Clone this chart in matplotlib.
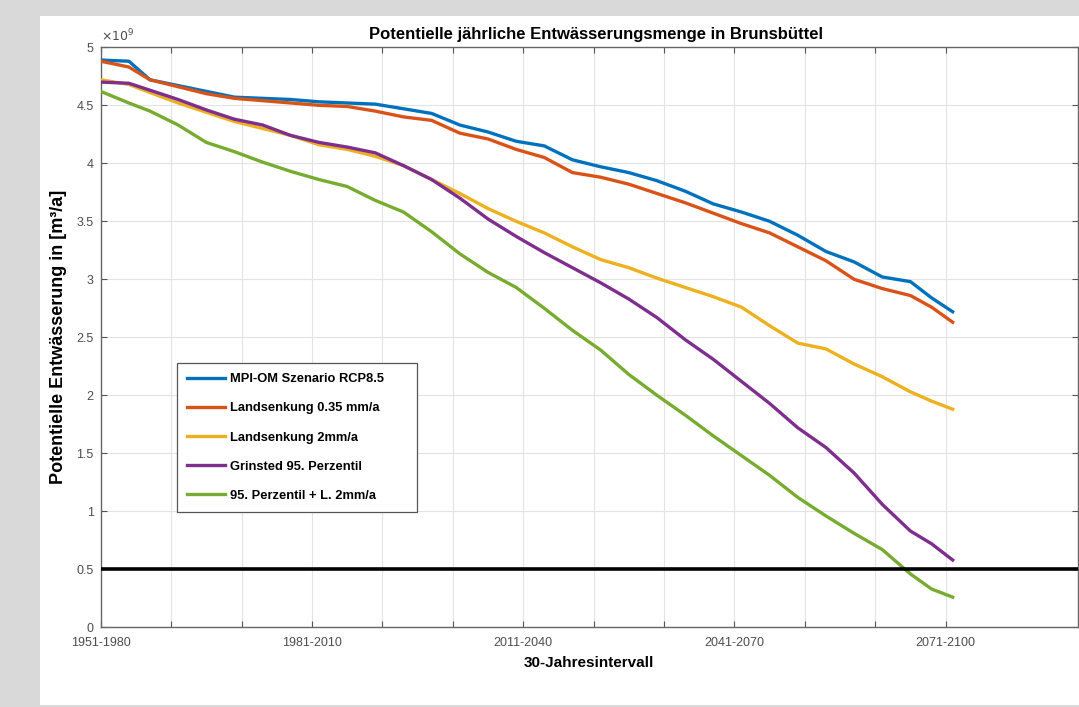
#!/usr/bin/env python
"""Potentielle jaehrliche Entwaesserungsmenge in Brunsbuettel (MATLAB-style line chart)."""

import matplotlib

matplotlib.use("Agg")
import matplotlib.pyplot as plt
from matplotlib.patches import Rectangle

# Start year of each 30-year interval
YEARS = [1951, 1955, 1958, 1962, 1966, 1970, 1974, 1978, 1982, 1986, 1990,
         1994, 1998, 2002, 2006, 2010, 2014, 2018, 2022, 2026, 2030, 2034,
         2038, 2042, 2046, 2050, 2054, 2058, 2062, 2066, 2069, 2072]

# Values in 10^9 m^3/a
MPI_OM = [4.89, 4.88, 4.72, 4.67, 4.62, 4.57, 4.56, 4.55, 4.53, 4.52, 4.51,
          4.47, 4.43, 4.33, 4.27, 4.19, 4.15, 4.03, 3.97, 3.92, 3.85, 3.76,
          3.65, 3.58, 3.50, 3.38, 3.24, 3.15, 3.02, 2.98, 2.84, 2.72]
SENK_035 = [4.88, 4.83, 4.72, 4.66, 4.60, 4.56, 4.54, 4.52, 4.50, 4.49, 4.45,
            4.40, 4.37, 4.26, 4.21, 4.12, 4.05, 3.92, 3.88, 3.82, 3.74, 3.66,
            3.57, 3.48, 3.40, 3.28, 3.16, 3.00, 2.92, 2.86, 2.76, 2.63]
SENK_2 = [4.72, 4.68, 4.61, 4.52, 4.44, 4.36, 4.30, 4.24, 4.16, 4.12, 4.06,
          3.98, 3.86, 3.74, 3.61, 3.50, 3.40, 3.28, 3.17, 3.10, 3.01, 2.93,
          2.85, 2.76, 2.60, 2.45, 2.40, 2.27, 2.16, 2.03, 1.95, 1.88]
GRINSTED_95 = [4.70, 4.69, 4.63, 4.55, 4.46, 4.38, 4.33, 4.24, 4.18, 4.14, 4.09,
               3.98, 3.86, 3.70, 3.52, 3.37, 3.23, 3.10, 2.97, 2.83, 2.67, 2.48,
               2.31, 2.12, 1.93, 1.72, 1.55, 1.33, 1.06, 0.83, 0.72, 0.58]
P95_SENK_2 = [4.62, 4.52, 4.45, 4.33, 4.18, 4.10, 4.01, 3.93, 3.86, 3.80, 3.68,
              3.58, 3.41, 3.22, 3.06, 2.93, 2.75, 2.56, 2.39, 2.18, 2.00, 1.83,
              1.65, 1.48, 1.31, 1.12, 0.96, 0.81, 0.67, 0.46, 0.33, 0.26]

SERIES_LABELS = [
    "MPI-OM Szenario RCP8.5",
    "Landsenkung 0.35 mm/a",
    "Landsenkung 2mm/a",
    "Grinsted 95. Perzentil",
    "95. Perzentil + L. 2mm/a",
]
THRESHOLD = 0.5

X_TICKS = list(range(1951, 2072, 10))
X_TICK_LABELS = ["1951-1980", "", "", "1981-2010", "", "", "2011-2040",
                 "", "", "2041-2070", "", "", "2071-2100"]
Y_TICKS = [0, 0.5, 1, 1.5, 2, 2.5, 3, 3.5, 4, 4.5, 5]
Y_TICK_LABELS = ["0", "0.5", "1", "1.5", "2", "2.5", "3", "3.5", "4", "4.5", "5"]

# MATLAB default color order
COLORS = ["#0072BD", "#D95319", "#EDB120", "#7E2F8E", "#77AC30"]


def main() -> None:
    plt.rcParams["font.family"] = ["Liberation Sans", "DejaVu Sans"]

    W, H = 1079, 707
    fig = plt.figure(figsize=(W / 100, H / 100), dpi=100)
    fig.patch.set_facecolor("#d9d9d9")
    fig.add_artist(Rectangle((40 / W, 2 / H), 1, (705 - 16) / H,
                             transform=fig.transFigure, facecolor="white",
                             edgecolor="none", zorder=0))

    ax = fig.add_axes([100.7 / W, (H - 627.3) / H, (1078 - 100.7) / W, 580 / H])
    ax.set_facecolor("white")

    series = [MPI_OM, SENK_035, SENK_2, GRINSTED_95, P95_SENK_2]
    for values, label, color in zip(series, SERIES_LABELS, COLORS):
        ax.plot(YEARS, values, color=color, lw=2.4, label=label,
                solid_joinstyle="round", zorder=3)

    ax.axhline(THRESHOLD, color="black", lw=2.6, zorder=4)

    ax.set_xlim(1951, 2089.8)
    ax.set_ylim(0, 5)
    ax.set_xticks(X_TICKS)
    ax.set_xticklabels(X_TICK_LABELS)
    ax.set_yticks(Y_TICKS)
    ax.set_yticklabels(Y_TICK_LABELS)

    tick_color = "#4d4d4d"
    ax.tick_params(direction="in", top=True, right=True, length=4.5,
                   width=0.8, color="#555555", labelsize=9,
                   labelcolor=tick_color)
    ax.tick_params(axis="x", pad=7)
    ax.tick_params(axis="y", pad=5)
    for spine in ax.spines.values():
        spine.set_color("#666666")
        spine.set_linewidth(1.0)
    ax.grid(True, color="#e3e3e3", lw=0.8, zorder=0)
    ax.set_axisbelow(True)

    ax.text(0.0, 1.006, r"$\times10^{9}$", transform=ax.transAxes,
            ha="left", va="bottom", fontsize=9, color=tick_color)

    ax.set_title("Potentielle jährliche Entwässerungsmenge in Brunsbüttel",
                 fontsize=12, fontweight="bold", pad=6, x=0.507)
    ax.set_xlabel("30-Jahresintervall", fontsize=11, fontweight="bold",
                  labelpad=5)
    ax.set_ylabel("Potentielle Entwässerung in [m³/a]", fontsize=13,
                  fontweight="bold")
    ax.yaxis.set_label_coords(-0.0345, 0.5)

    leg = ax.legend(loc="upper left", bbox_to_anchor=(0.078, 0.0, 0.2456, 0.4557),
                    mode="expand", borderaxespad=0.0, fancybox=False,
                    framealpha=1, edgecolor="#555555",
                    prop={"weight": "bold", "size": 9.3},
                    handlelength=2.9, labelspacing=1.32, borderpad=0.8,
                    handletextpad=0.4)
    leg.get_frame().set_linewidth(0.9)

    fig.savefig("out.png", dpi=100, facecolor=fig.get_facecolor())
    plt.close(fig)


if __name__ == "__main__":
    main()
